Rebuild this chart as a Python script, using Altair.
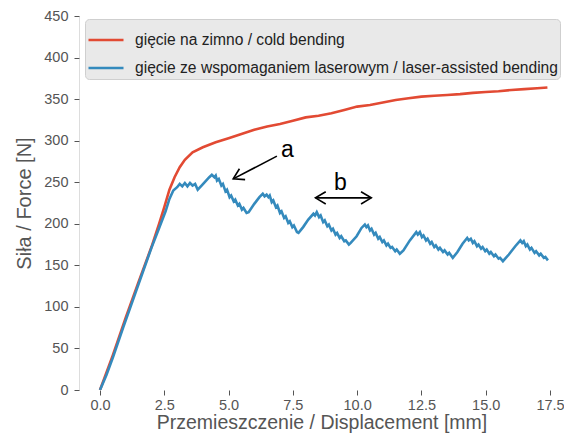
import math
import altair as alt
import pandas as pd

# ---------------- data ----------------
series_names = [
    "gięcie na zimno / cold bending",
    "gięcie ze wspomaganiem laserowym / laser-assisted bending",
]
series_colors = ["#E24A33", "#348ABD"]

cold_x = [0.0, 0.5, 1.0, 1.5, 2.0, 2.3, 2.5, 2.7, 2.9, 3.1, 3.3, 3.6, 4.0, 4.5, 5.0,
          5.5, 6.0, 6.5, 7.0, 7.5, 8.0, 8.5, 9.0, 9.5, 10.0, 10.5, 11.0, 11.5, 12.0,
          12.5, 13.0, 13.5, 14.0, 14.5, 15.0, 15.5, 16.0, 16.5, 17.0, 17.4]
cold_y = [0, 42, 87, 130, 172, 200, 220, 241, 256, 268, 277, 286, 292, 298, 303,
          308, 313, 317, 320, 324, 328, 330, 333, 337, 341, 343, 346, 349, 351,
          353, 354, 355, 356, 357.5, 358.5, 359.5, 361, 362, 363, 364]

laser_x = [0.0, 0.25, 0.5, 0.9, 1.3, 1.7, 2.0, 2.3, 2.55, 2.7, 2.85, 3.0, 3.1, 3.2,
           3.3, 3.4, 3.5, 3.6, 3.7, 3.8, 3.95, 4.1, 4.25, 4.35, 4.45, 4.5,
           4.55, 4.62, 4.72, 4.78, 4.88, 4.94, 5.04, 5.1, 5.2, 5.26, 5.36, 5.42,
           5.52, 5.58, 5.7, 5.78, 6.0, 6.2, 6.33, 6.4, 6.48, 6.55, 6.6,
           6.68, 6.74, 6.84, 6.9, 7.0, 7.06, 7.16, 7.22, 7.32, 7.38, 7.48, 7.54,
           7.66, 7.72, 7.9, 8.1, 8.3, 8.36, 8.43,
           8.52, 8.58, 8.68, 8.74, 8.84, 8.9, 9.0, 9.06, 9.16, 9.22, 9.32, 9.38,
           9.5, 9.56, 9.68, 9.75, 9.98, 10.17, 10.3, 10.36, 10.42,
           10.5, 10.56, 10.66, 10.72, 10.82, 10.88, 10.98, 11.04, 11.14, 11.2,
           11.3, 11.36, 11.48, 11.54, 11.66, 11.8, 12.05, 12.3, 12.36, 12.44,
           12.52, 12.58, 12.68, 12.74, 12.84, 12.9, 13.0, 13.06, 13.16, 13.22,
           13.34, 13.4, 13.52, 13.58, 13.72, 13.9, 14.1, 14.28, 14.34, 14.42,
           14.5, 14.56, 14.66, 14.72, 14.82, 14.88, 14.98, 15.04, 15.14, 15.2,
           15.32, 15.38, 15.5, 15.56, 15.67, 15.9, 16.15, 16.35, 16.42, 16.48,
           16.56, 16.62, 16.72, 16.78, 16.9, 16.96, 17.08, 17.14, 17.26, 17.32,
           17.42]
laser_y = [0, 18, 39, 75, 110, 145, 171, 195, 215, 230, 240, 244, 248, 245,
           249, 245, 249, 246, 248, 241, 246, 251, 256, 259, 256, 258,
           252, 254, 246, 248, 239, 241, 232, 234, 227, 229, 222, 224,
           217, 219, 213, 214, 224, 232, 236, 233, 235, 232, 234,
           226, 228, 220, 222, 213, 215, 207, 209, 201, 203, 196, 198,
           190, 189, 196, 205, 212, 210, 214,
           208, 210, 202, 204, 197, 199, 192, 194, 187, 189, 183, 185,
           179, 180, 175, 177, 185, 195, 199, 196, 198,
           192, 194, 187, 189, 182, 184, 178, 180, 174, 176,
           171, 172, 167, 169, 164, 168, 180, 190, 187, 190,
           184, 186, 180, 182, 176, 178, 172, 174, 169, 171,
           166, 168, 163, 165, 159, 166, 176, 183, 180, 182,
           177, 179, 173, 175, 170, 172, 167, 169, 164, 166,
           161, 163, 158, 159, 155, 163, 173, 180, 177, 179,
           173, 175, 169, 171, 165, 167, 162, 164, 159, 160,
           156]

x_ticks = [0.0, 2.5, 5.0, 7.5, 10.0, 12.5, 15.0, 17.5]
y_ticks = [0, 50, 100, 150, 200, 250, 300, 350, 400, 450]

# annotations
label_text = ["a", "b"]
label_x = [7.29, 9.35]
label_y = [280, 240.7]
arrow_id = ["a", "a", "b", "b"]
arrow_x = [6.88, 5.18, 8.38, 10.55]
arrow_y = [281.4, 254.0, 231.2, 231.2]
# arrow heads: (tip index, from index)
head_pairs = [(1, 0), (3, 2), (2, 3)]

# ---------------- layout ----------------
W, H = 485, 374
x_dom = [-0.817, 18.045]
y_dom = [0, 450]
px_x = W / (x_dom[1] - x_dom[0])
px_y = H / (y_dom[1] - y_dom[0])

font = "Liberation Sans"
grey = "#555555"

rows = []
for i, (xv, yv) in enumerate(zip(cold_x, cold_y)):
    rows.append({"x": xv, "y": yv, "series": series_names[0], "i": i})
for i, (xv, yv) in enumerate(zip(laser_x, laser_y)):
    rows.append({"x": xv, "y": yv, "series": series_names[1], "i": i})
curves = pd.DataFrame(rows)

arrows = pd.DataFrame({"id": arrow_id, "x": arrow_x, "y": arrow_y,
                       "i": list(range(len(arrow_x)))})
heads = []
for tip, frm in head_pairs:
    dx = (arrow_x[tip] - arrow_x[frm]) * px_x
    dy = -(arrow_y[tip] - arrow_y[frm]) * px_y
    ang = math.degrees(math.atan2(dy, dx)) % 360
    heads.append({"x": arrow_x[tip], "y": arrow_y[tip], "ang": ang})
heads = pd.DataFrame(heads)
labels = pd.DataFrame({"t": label_text, "x": label_x, "y": label_y})

xs = alt.Scale(domain=x_dom, nice=False, zero=False)
ys = alt.Scale(domain=y_dom, nice=False, zero=False)

x_axis = alt.Axis(values=x_ticks, format=".1f", title="Przemieszczenie / Displacement [mm]",
                  titleFontSize=19.5, titleFont=font, titleFontWeight="normal", titleColor=grey,
                  labelFontSize=14.5, labelFont=font, labelColor=grey, tickColor=grey,
                  tickSize=5, domain=False, gridColor="white", gridWidth=1.2,
                  labelPadding=3, titlePadding=2, labelFlush=False)
y_axis = alt.Axis(values=y_ticks, title="Siła / Force [N]",
                  titleFontSize=20, titleFont=font, titleFontWeight="normal", titleColor=grey,
                  labelFontSize=14.5, labelFont=font, labelColor=grey, tickColor=grey,
                  tickSize=5, domain=False, gridColor="white", gridWidth=1.2,
                  labelPadding=6, titlePadding=9, labelFlush=False)

lines = alt.Chart(curves).mark_line(strokeWidth=2.6, clip=True).encode(
    x=alt.X("x:Q", scale=xs, axis=x_axis),
    y=alt.Y("y:Q", scale=ys, axis=y_axis),
    color=alt.Color("series:N", scale=alt.Scale(domain=series_names, range=series_colors),
                    sort=series_names,
                    legend=alt.Legend(orient="none", legendX=6, legendY=3, title=None,
                                      symbolType="stroke", symbolSize=1225,
                                      symbolStrokeWidth=2.6, labelFontSize=15.6,
                                      labelFont=font, labelColor="#222222", labelLimit=600,
                                      fillColor="#E9E9E9", strokeColor="#CFCFCF",
                                      cornerRadius=4, padding=2, rowPadding=-5,
                                      labelOffset=10)),
    order="i:Q",
)

arrow_lines = alt.Chart(arrows).mark_line(color="black", strokeWidth=1.6).encode(
    x=alt.X("x:Q", scale=xs), y=alt.Y("y:Q", scale=ys), detail="id:N", order="i:Q")

arrow_heads = alt.Chart(heads).mark_point(
    shape="M -1 -0.6 L 0 0 L -1 0.6", filled=False, color="black",
    strokeWidth=1.6, size=420, opacity=1).encode(
    x=alt.X("x:Q", scale=xs), y=alt.Y("y:Q", scale=ys),
    angle=alt.Angle("ang:Q", scale=None))

texts = alt.Chart(labels).mark_text(fontSize=23, font=font, color="black",
                                    align="center", baseline="alphabetic").encode(
    x=alt.X("x:Q", scale=xs), y=alt.Y("y:Q", scale=ys), text="t:N")

chart = alt.layer(lines, arrow_lines, arrow_heads, texts).properties(
    width=W, height=H,
    autosize=alt.AutoSizeParams(type="none"),
    padding={"left": 71, "top": 8, "right": 0, "bottom": 44},
).configure_view(fill="#E5E5E5", stroke="#E5E5E5").configure(font=font)

chart.save("out.html", embed_options={"renderer": "svg", "actions": False})
